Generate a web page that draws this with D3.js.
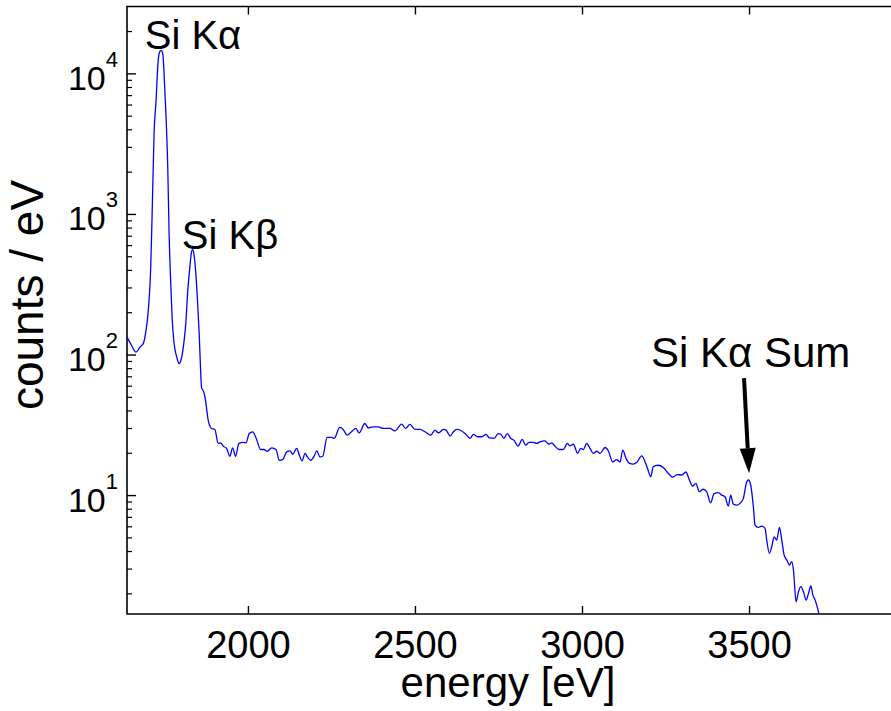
<!DOCTYPE html>
<html>
<head>
<meta charset="utf-8">
<script src="https://cdn.jsdelivr.net/npm/d3@7"></script>
<style>
body { margin:0; background:#fff; }
text { font-family:"Liberation Sans", Arial, Helvetica, sans-serif; fill:#000; }
</style>
</head>
<body>
<svg id="chart"></svg>
<script>
// spectrum: energy in eV, counts per eV
var energy = [1638,1650,1665,1677,1687,1695,1701,1709,1713,1719,
  1725,1730,1734,1740,1745,1749,1755,1760,1764,1769,
  1773,1779,1787,1794,1801,1808,1814,1820,1826,1831,
  1834,1838,1844,1849,1854,1858,1861,1868,1873,1881,
  1891,1901,1911,1918,1926,1936,1946,1954,1963,1973,
  1986,1994,2004,2014,2026,2038,2048,2058,2071,2084,
  2094,2104,2116,2126,2134,2146,2154,2162,2171,2178,
  2188,2198,2206,2216,2224,2237,2251,2258,2275,2285,
  2297,2310,2323,2333,2350,2360,2375,2390,2405,2425,
  2440,2460,2472,2485,2500,2515,2530,2547,2560,2570,
  2585,2593,2605,2615,2625,2640,2650,2665,2675,2687,
  2700,2713,2722,2737,2749,2757,2766,2776,2787,2796,
  2809,2821,2831,2842,2854,2864,2874,2889,2901,2909,
  2919,2932,2944,2956,2964,2974,2987,2996,3004,3014,
  3024,3034,3044,3054,3069,3079,3092,3104,3114,3122,
  3132,3142,3154,3164,3179,3189,3196,3206,3213,3228,
  3245,3258,3272,3284,3299,3311,3321,3331,3341,3351,
  3363,3373,3385,3395,3408,3418,3428,3438,3445,3453,
  3463,3473,3483,3493,3498,3505,3513,3518,3528,3538,
  3548,3553,3561,3568,3575,3583,3591,3598,3605,3613,
  3621,3628,3633,3641,3648,3655,3663,3671,3678,3685,
  3691,3698,3705,3710,3719];

var counts = [133,118,104,113,120,149,197,417,946,3740,
  6420,11070,13850,14550,13850,9980,4860,2144,728,321,
  184,120,95.7,86.3,94.1,120,167,286,417,534,
  558,525,378,243,142,81.2,58.6,54.0,47.3,34.1,
  29.8,29.3,23.3,23.5,22.3,21.5,18.9,21.7,18.9,23.3,
  23.7,23.5,27.4,28.2,24.9,21.1,21.1,20.5,21.7,21.1,
  17.7,17.9,20.3,20.6,19.5,21.5,19.2,17.5,19.8,18.7,
  17.7,18.9,20.6,18.7,18.9,25.7,25.7,25.3,30.3,29.3,
  26.7,28.2,29.8,27.7,32.3,30.1,30.6,30.6,29.8,29.8,
  28.6,32.0,29.8,31.8,29.3,29.3,28.2,26.7,29.0,27.7,
  29.3,29.0,26.3,28.2,29.3,28.6,27.4,25.3,27.0,26.0,
  26.0,27.0,25.5,25.3,27.4,27.1,25.3,27.4,25.3,24.6,
  22.3,24.9,22.7,23.7,23.7,23.3,23.9,24.3,23.0,23.5,
  22.3,21.1,21.1,23.3,22.4,23.0,19.8,21.5,21.1,23.3,
  21.5,19.8,20.5,19.8,21.8,20.6,17.2,17.9,17.2,20.9,
  18.2,16.8,16.6,17.1,19.0,17.2,15.5,13.5,15.9,16.3,
  15.6,14.3,13.4,14.0,13.9,14.6,12.9,11.6,12.1,10.6,
  11.0,10.6,8.82,10.2,10.4,10.0,9.72,8.35,10.0,8.63,
  8.49,8.73,9.47,12.4,12.8,11.8,8.26,6.12,5.89,6.02,
  5.80,4.79,3.85,4.29,5.05,4.79,5.89,4.79,3.75,3.45,
  3.18,3.36,2.93,1.74,2.05,2.23,2.05,1.79,2.00,2.26,
  1.95,1.79,1.57,1.40,1.10];

var xTicks = [2000, 2500, 3000, 3500];
var yExponents = [1, 2, 3, 4];
var xDomain = [1638, 3925];
var yDomain = [1.426, 29900];

// annotations: text + anchor point in data units
var peakNames = ["Si K\u03b1", "Si K\u03b2", "Si K\u03b1 Sum"];
var peakTextE = [1691, 1802, 3505];
var peakTextC = [15000, 560, 81];
var arrowFrom = [3485, 68];
var arrowTo = [3500, 14.3];

var screen = {width:891, height:711};
var margins = {top:6.5, left:127, right:0, bottom:97};
var graph = {
  width: screen.width - margins.left - margins.right,
  height: screen.height - margins.top - margins.bottom
};

var svg = d3.select("#chart")
  .attr("width", screen.width)
  .attr("height", screen.height);

var xScale = d3.scaleLinear().domain(xDomain).range([0, graph.width]);
var yScale = d3.scaleLog().domain(yDomain).range([graph.height, 0]);

var g = svg.append("g")
  .attr("transform", "translate(" + margins.left + "," + margins.top + ")");

g.append("clipPath").attr("id", "plotclip")
  .append("rect").attr("width", graph.width).attr("height", graph.height);

// minor log ticks 2..9 per decade
var minor = [];
for (var p = 0; p <= 4; p++) {
  for (var m = 2; m <= 9; m++) {
    var v = m * Math.pow(10, p);
    if (v > yDomain[0] && v < yDomain[1]) minor.push(v);
  }
}
var major = yExponents.map(function(e) { return Math.pow(10, e); });

var axes = g.append("g").attr("class", "axes");

// ticks point inward like the original
axes.append("g")
  .call(d3.axisLeft(yScale).tickValues(minor).tickSize(-5).tickFormat(""))
  .call(function(s) { s.select(".domain").remove(); })
  .selectAll("line").attr("stroke-width", 1.2);

var yMaj = axes.append("g")
  .call(d3.axisLeft(yScale).tickValues(major).tickSize(-9).tickFormat(""));
yMaj.select(".domain").remove();
yMaj.selectAll("line").attr("stroke-width", 1.4);

yMaj.selectAll(".tick").append("text")
  .attr("x", -9)
  .attr("y", 16)
  .attr("text-anchor", "end")
  .attr("fill", "#000")
  .style("font-size", "34px")
  .each(function(d) {
    var t = d3.select(this);
    t.append("tspan").text("10");
    t.append("tspan")
      .attr("dy", -23)
      .style("font-size", "22px")
      .text(Math.round(Math.log10(d)));
  });

var xAx = axes.append("g")
  .attr("transform", "translate(0," + graph.height + ")")
  .call(d3.axisBottom(xScale).tickValues(xTicks).tickSize(-8).tickFormat(""));
xAx.select(".domain").remove();
xAx.selectAll("line").attr("stroke-width", 1.4);
xAx.selectAll(".tick").append("text")
  .attr("y", 44)
  .attr("text-anchor", "middle")
  .attr("fill", "#000")
  .style("font-size", "38px")
  .text(function(d) { return d; });

var xTop = axes.append("g")
  .call(d3.axisTop(xScale).tickValues(xTicks).tickSize(-8).tickFormat(""));
xTop.select(".domain").remove();
xTop.selectAll("line").attr("stroke-width", 1.4);

// box
axes.append("path")
  .attr("d", "M" + (graph.width + 5) + ",0H0V" + graph.height + "H" + (graph.width + 5))
  .attr("fill", "none")
  .attr("stroke", "#000")
  .attr("stroke-width", 1.6);

// spectrum
var spectrum = energy.map(function(e, i) { return {e:e, c:counts[i]}; });
var lineGenerator = d3.line()
  .x(function(d) { return xScale(d.e); })
  .y(function(d) { return yScale(d.c); })
  .curve(d3.curveMonotoneX);

g.append("path")
  .datum(spectrum)
  .attr("clip-path", "url(#plotclip)")
  .attr("d", lineGenerator)
  .attr("fill", "none")
  .attr("stroke", "#0000ff")
  .attr("stroke-width", 1.3);

// labels
var labels = g.append("g").attr("class", "labels");
labels.append("text")
  .text(peakNames[0])
  .attr("x", xScale(peakTextE[0]))
  .attr("y", yScale(peakTextC[0]))
  .style("font-size", "40px");
labels.append("text")
  .text(peakNames[1])
  .attr("x", xScale(peakTextE[1]))
  .attr("y", yScale(peakTextC[1]))
  .style("font-size", "40px");
labels.append("text")
  .text(peakNames[2])
  .attr("x", xScale(peakTextE[2]))
  .attr("y", yScale(peakTextC[2]))
  .attr("text-anchor", "middle")
  .style("font-size", "42px");

// arrow to the sum peak
var ax0 = xScale(arrowFrom[0]), ay0 = yScale(arrowFrom[1]);
var ax1 = xScale(arrowTo[0]), ay1 = yScale(arrowTo[1]);
var headLen = 25, headHalf = 8;
var ang = Math.atan2(ay1 - ay0, ax1 - ax0);
var bx = ax1 - headLen * Math.cos(ang), by = ay1 - headLen * Math.sin(ang);
labels.append("line")
  .attr("x1", ax0).attr("y1", ay0)
  .attr("x2", bx).attr("y2", by)
  .attr("stroke", "#000")
  .attr("stroke-width", 4);
labels.append("path")
  .attr("d", "M" + ax1 + "," + ay1 +
    "L" + (bx + headHalf * Math.sin(ang)) + "," + (by - headHalf * Math.cos(ang)) +
    "L" + (bx - headHalf * Math.sin(ang)) + "," + (by + headHalf * Math.cos(ang)) + "Z")
  .attr("fill", "#000");

// axis titles
svg.append("text")
  .text("energy [eV]")
  .attr("x", 508)
  .attr("y", 697)
  .attr("text-anchor", "middle")
  .style("font-size", "42px");

svg.append("text")
  .text("counts / eV")
  .attr("text-anchor", "middle")
  .attr("transform", "translate(43,295) rotate(-90)")
  .style("font-size", "46px");
</script>
</body>
</html>
